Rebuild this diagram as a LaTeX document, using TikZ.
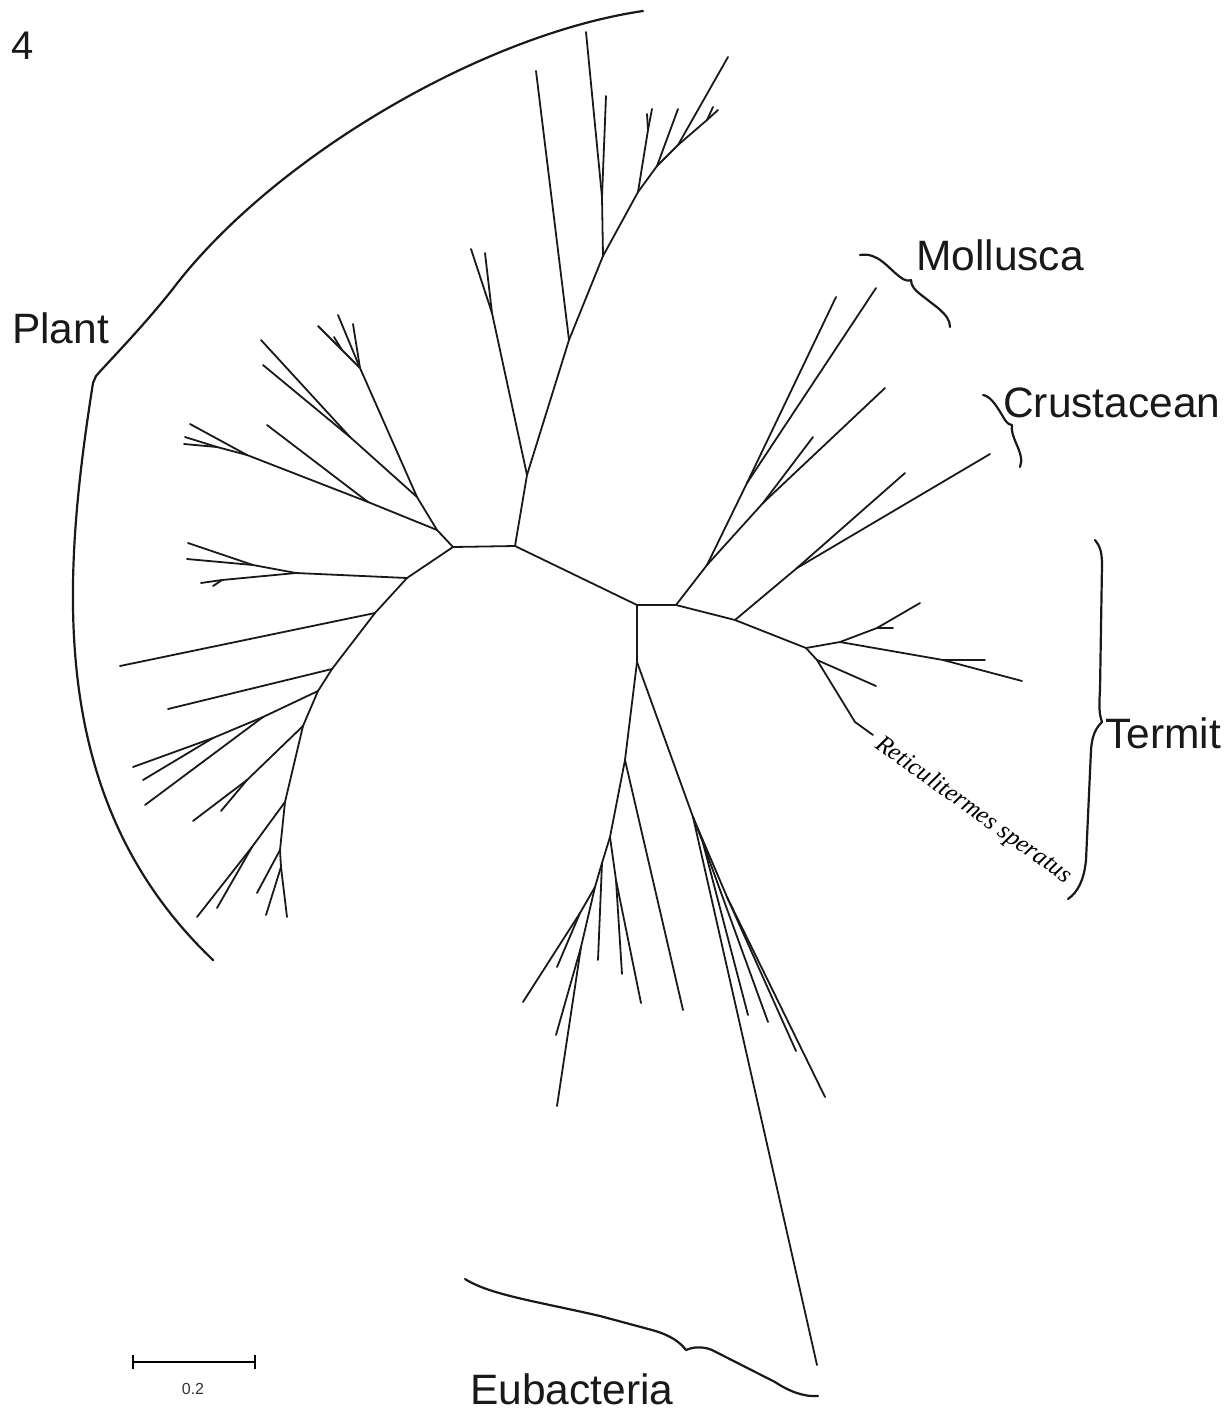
\documentclass[tikz,border=0pt]{standalone}
\usepackage{fontspec}
\setmainfont{Liberation Sans}
\newfontfamily\serifit{Liberation Serif}
\begin{document}
\begin{tikzpicture}[x=1pt,y=-1pt,
  br/.style={line width=1.8pt, line cap=round, color=black!90},
  brc/.style={line width=2.2pt, line cap=round, line join=round, color=black!90},
  lab/.style={font=\fontsize{42.5}{50}\selectfont, inner sep=0pt, anchor=base west, text=black!90}]
\useasboundingbox (0,0) rectangle (1231,1414);
% central nodes
\coordinate (A) at (453,547);
\coordinate (B) at (515,546);
\coordinate (C) at (637,605);
\coordinate (E) at (676,605);
\coordinate (F) at (735,620);
\coordinate (G) at (806,648);
\coordinate (D) at (637,662);
% upper clade
\coordinate (H) at (527,475);
\coordinate (V) at (492,313);
\coordinate (v1) at (471,249);
\coordinate (v2) at (485,253);
\coordinate (N1) at (569,340);
\coordinate (n1) at (536,71);
\coordinate (N2) at (603,256);
\coordinate (N3) at (602,197);
\coordinate (n3a) at (586,32);
\coordinate (n3b) at (606,96);
\coordinate (N4) at (638,192);
\coordinate (N5) at (648,130);
\coordinate (n5a) at (647,114);
\coordinate (n5b) at (652,109);
\coordinate (N6) at (657,166);
\coordinate (n6) at (678,109);
\coordinate (N7) at (678,145);
\coordinate (n7) at (728,57);
\coordinate (N8) at (707,120);
\coordinate (n8a) at (718,110);
\coordinate (n8b) at (713,107);
% left clade
\coordinate (L1) at (437,530);
\coordinate (L3) at (417,497);
\coordinate (L3a) at (350,437);
\coordinate (l3a) at (261,340);
\coordinate (l3b) at (263,365);
\coordinate (L4) at (360,368);
\coordinate (l4a) at (338,315);
\coordinate (l4b) at (353,324);
\coordinate (L4b) at (342,350);
\coordinate (l4c) at (318,326);
\coordinate (l4d) at (334,337);
\coordinate (L6) at (368,502);
\coordinate (l6) at (267,425);
\coordinate (L5) at (247,455);
\coordinate (l5a) at (190,424);
\coordinate (L5b) at (217,447);
\coordinate (l5b) at (185,437);
\coordinate (l5c) at (184,444);
\coordinate (L2) at (407,578);
\coordinate (L7) at (296,573);
\coordinate (L7a) at (253,565);
\coordinate (l7a) at (188,543);
\coordinate (l7b) at (187,559);
\coordinate (L7b) at (222,580);
\coordinate (l7c) at (201,583);
\coordinate (l7d) at (213,586);
\coordinate (S1) at (375,613);
\coordinate (s1) at (120,666);
\coordinate (S2) at (332,669);
\coordinate (s2) at (168,709);
\coordinate (S3) at (318,691);
\coordinate (S3a) at (263,717);
\coordinate (s3a) at (145,805);
\coordinate (S3b) at (213,738);
\coordinate (s3b) at (133,767);
\coordinate (s3c) at (143,780);
\coordinate (S4) at (303,726);
\coordinate (S4a) at (247,780);
\coordinate (s4a) at (193,821);
\coordinate (s4b) at (221,811);
\coordinate (S5) at (285,802);
\coordinate (S5a) at (252,847);
\coordinate (s5a) at (197,917);
\coordinate (s5b) at (217,908);
\coordinate (S6) at (280,850);
\coordinate (s6) at (257,893);
\coordinate (S7) at (281,867);
\coordinate (s7a) at (266,915);
\coordinate (s7b) at (287,917);
% right clade
\coordinate (R1) at (707,565);
\coordinate (R2) at (747,483);
\coordinate (r2a) at (836,297);
\coordinate (r2b) at (876,288);
\coordinate (R3) at (763,503);
\coordinate (r3a) at (813,437);
\coordinate (r3b) at (885,388);
\coordinate (R4) at (797,568);
\coordinate (r4a) at (905,473);
\coordinate (r4b) at (990,454);
\coordinate (T1) at (840,642);
\coordinate (T2) at (877,628);
\coordinate (t2a) at (920,603);
\coordinate (t2b) at (893,628);
\coordinate (T3) at (943,660);
\coordinate (t3a) at (985,660);
\coordinate (t3b) at (1022,681);
\coordinate (T4) at (817,660);
\coordinate (t4) at (876,686);
\coordinate (T5) at (855,722);
\coordinate (t5) at (873,735);
% lower clade
\coordinate (M1) at (625,760);
\coordinate (m1) at (683,1010);
\coordinate (M2) at (610,837);
\coordinate (M3) at (616,880);
\coordinate (m3a) at (622,974);
\coordinate (m3b) at (641,1003);
\coordinate (M4) at (602,863);
\coordinate (m4) at (598,960);
\coordinate (M5) at (595,887);
\coordinate (M6) at (580,913);
\coordinate (m6a) at (523,1002);
\coordinate (m6b) at (557,967);
\coordinate (M7) at (581,947);
\coordinate (m7a) at (556,1035);
\coordinate (m7b) at (557,1106);
\coordinate (Q1) at (693,817);
\coordinate (q1) at (817,1365);
\coordinate (Q3) at (703,843);
\coordinate (q3a) at (748,1015);
\coordinate (q3b) at (768,1022);
\coordinate (Q2) at (727,897);
\coordinate (q2a) at (796,1051);
\coordinate (q2b) at (825,1097);
% edges
\foreach \a/\b in {A/B, B/C, C/E, E/F, F/G, C/D,
  B/H, H/V, V/v1, V/v2, H/N1, N1/n1, N1/N2, N2/N3, N3/n3a, N3/n3b, N2/N4, N4/N5, N5/n5a, N5/n5b,
  N4/N6, N6/n6, N6/N7, N7/n7, N7/N8, N8/n8a, N8/n8b,
  A/L1, L1/L3, L3/L4, L3/L3a, L3a/l3a, L3a/l3b, L4/l4a, L4/l4b, L4/L4b, L4b/l4c, L4b/l4d,
  L1/L6, L6/l6, L6/L5, L5/l5a, L5/L5b, L5b/l5b, L5b/l5c,
  A/L2, L2/L7, L7/L7a, L7a/l7a, L7a/l7b, L7/L7b, L7b/l7c, L7b/l7d,
  L2/S1, S1/s1, S1/S2, S2/s2, S2/S3, S3/S3a, S3a/s3a, S3a/S3b, S3b/s3b, S3b/s3c,
  S3/S4, S4/S4a, S4a/s4a, S4a/s4b, S4/S5, S5/S5a, S5a/s5a, S5a/s5b, S5/S6, S6/s6, S6/S7, S7/s7a, S7/s7b,
  E/R1, R1/R2, R2/r2a, R2/r2b, R1/R3, R3/r3a, R3/r3b, F/R4, R4/r4a, R4/r4b,
  G/T1, T1/T2, T2/t2a, T2/t2b, T1/T3, T3/t3a, T3/t3b, G/T4, T4/t4, T4/T5, T5/t5,
  D/M1, M1/m1, M1/M2, M2/M3, M3/m3a, M3/m3b, M2/M4, M4/m4, M4/M5, M5/M6, M6/m6a, M6/m6b,
  M5/M7, M7/m7a, M7/m7b,
  D/Q1, Q1/q1, Q1/Q3, Q3/q3a, Q3/q3b, Q1/Q2, Q2/q2a, Q2/q2b}
  \draw[br] (\a) -- (\b);
% braces
\draw[brc] (643,11) .. controls (480,35) and (270,160) .. (172,290)
  .. controls (140,330) and (110,360) .. (96,376) -- (93,383)
  .. controls (62,580) and (45,800) .. (213,960);
\draw[brc] (860,255) .. controls (878,252) and (888,268) .. (900,277)
  .. controls (905,281) and (909,281) .. (911,280)
  .. controls (911,286) and (915,290) .. (920,294) -- (938,308)
  .. controls (946,315) and (950,320) .. (950,327);
\draw[brc] (983,395) .. controls (992,396) and (1000,412) .. (1005,420)
  .. controls (1008,424) and (1010,425) .. (1012,425)
  .. controls (1011,430) and (1013,436) .. (1016,443)
  .. controls (1020,452) and (1023,460) .. (1020,467);
\draw[brc] (1095,540) .. controls (1100,546) and (1102,552) .. (1102,565)
  -- (1100,690) .. controls (1099,705) and (1099,714) .. (1102,722)
  .. controls (1096,728) and (1092,735) .. (1091,750)
  -- (1086,860) .. controls (1084,880) and (1078,892) .. (1068,899);
\draw[brc] (465,1279) .. controls (490,1295) and (540,1302) .. (600,1316)
  -- (652,1330) .. controls (670,1335) and (680,1342) .. (686,1350)
  .. controls (695,1346) and (705,1347) .. (712,1350) -- (775,1382)
  .. controls (790,1392) and (805,1397) .. (818,1396);
% labels
\node[lab] (plant) at (12,343) {Plant};
\node[lab] (moll) at (916,270) {Mollusca};
\node[lab] (crus) at (1003,417) {Crustacean};
\node[lab] (term) at (1105,748) {Termit};
\node[lab] (euba) at (470,1404) {Eubacteria};
\node[lab, font=\fontsize{40}{48}\selectfont] (fig) at (11,59) {4};
\node[inner sep=0pt, anchor=base west, rotate=-35.5,
  font=\serifit\itshape\fontsize{25}{30}\selectfont] (rs) at (874,747) {Reticulitermes speratus};
% scale bar
\coordinate (sb1) at (133,1362);
\coordinate (sb2) at (255,1362);
\draw[line width=1.8pt] (sb1) -- (sb2);
\draw[line width=1.8pt] ([yshift=-7]sb1) -- ([yshift=7]sb1);
\draw[line width=1.8pt] ([yshift=-7]sb2) -- ([yshift=7]sb2);
\node[inner sep=0pt, font=\fontsize{16}{19}\selectfont, text=black!80] (sbl) at (193,1389) {0.2};
\end{tikzpicture}
\end{document}
